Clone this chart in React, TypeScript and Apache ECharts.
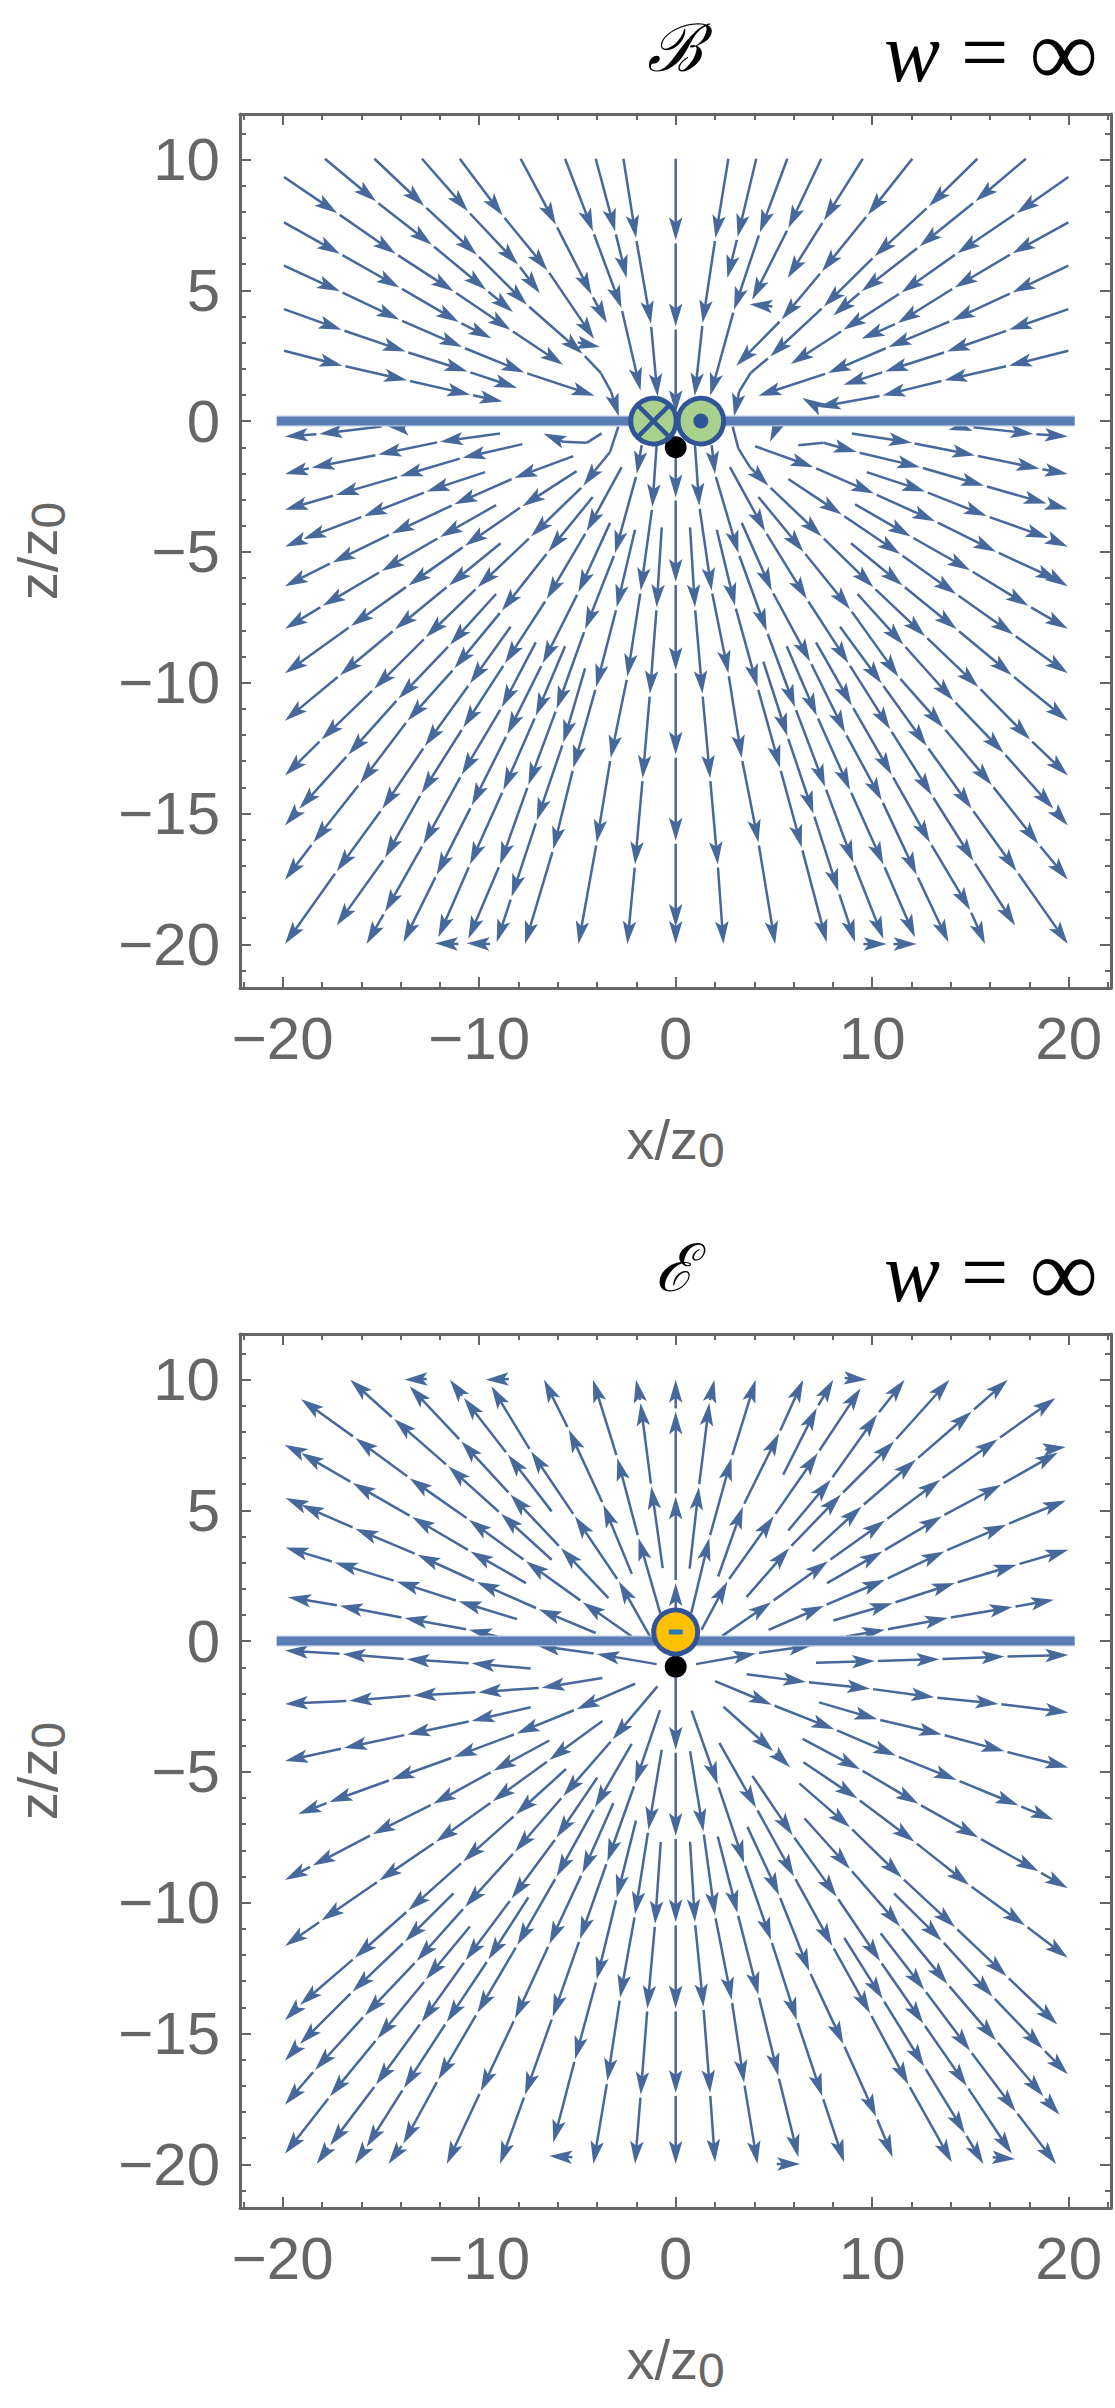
import React, { useEffect, useRef } from "react";
import * as echarts from "echarts";

type P = number[];

// Stream lines: [x, z] is an arrow tip, [x, z, 0] a bend without arrow; the first point is the start.
const bFieldUpper: P[][] = [
  [[-19.93,9.33],[-17.22,7.95],[-14.25,6.4],[-11.3,4.96],[-8.41,3.49],[-5.73,2.15]],
  [[-19.93,7.6],[-17.09,6.4],[-14.06,5.11],[-11.04,3.79],[-9.38,3.17]],
  [[-19.93,5.94],[-17.09,4.96],[-14.06,3.88],[-10.86,2.83],[-7.7,1.86],[-4.13,0.97]],
  [[-19.93,4.28],[-17.0,3.49],[-13.75,2.66],[-10.59,1.9],[-8.07,1.27]],
  [[-19.93,2.69],[-16.96,2.12],[-13.67,1.56],[-10.46,1.01],[-8.81,0.75]],
  [[-17.85,10.03],[-15.25,8.4],[-12.41,6.74],[-9.65,5.02],[-8.28,4.17]],
  [[-15.33,10.03],[-12.8,8.23],[-10.12,6.36],[-7.57,4.45],[-4.73,2.57],[-3.81,1.84,0],[-3.29,1.13,0],[-2.89,0.18]],
  [[-12.91,10.03],[-10.57,8.02],[-8.02,5.98],[-6.91,4.89]],
  [[-10.99,10.03],[-8.81,7.86],[-6.52,5.76],[-4.15,3.14]],
  [[-7.89,10.03],[-6.1,7.51],[-4.28,4.83],[-3.5,3.75]],
  [[-5.63,10.03],[-4.21,7.25],[-2.76,4.32],[-1.79,1.17]],
  [[-4.07,10.03],[-3.08,7.25],[-2.5,5.47]],
  [[-2.66,10.03],[-2.02,7.0],[-1.26,3.72],[-0.92,0.94]],
  [[0,10.03],[0,6.91],[0,3.62],[0,0.3]],
  [[2.68,10.03],[2.02,7.0],[1.37,3.75],[0.97,0.97]],
  [[4.1,10.03],[3.15,7.04],[2.63,5.47]],
  [[5.68,10.03],[4.28,7.21],[2.97,4.26],[1.76,0.97]],
  [[7.41,10.03],[5.73,7.38],[3.89,4.64]],
  [[9.52,10.03],[7.54,7.67],[5.7,5.47]],
  [[12.04,10.03],[9.78,7.89],[7.44,5.72],[5.39,3.88],[3.08,2.12]],
  [[15.35,10.03],[12.88,8.21],[10.12,6.3],[7.54,4.38],[4.81,2.47],[3.81,1.84,0],[3.23,1.13,0],[2.97,0.18]],
  [[17.82,10.03],[15.25,8.4],[12.41,6.68],[9.46,4.96],[8.02,4.04]],
  [[19.98,9.33],[17.35,7.95],[14.33,6.42],[11.49,4.92],[8.54,3.49],[5.86,2.18]],
  [[19.98,7.6],[17.14,6.42],[14.2,5.11],[11.3,3.75],[9.46,3.15]],
  [[19.98,5.94],[17.14,4.92],[14.06,3.85],[10.83,2.83],[7.75,1.84],[4.21,0.97]],
  [[19.98,4.28],[16.96,3.49],[13.8,2.66],[10.65,1.9],[8.54,1.39]],
  [[19.98,2.69],[16.96,2.12],[13.67,1.56],[10.52,0.98],[7.23,0.54]],
  [[-4.99,3.01],[-3.86,2.83]],
  [[4.92,4.38],[3.76,4.47]],
  [[7.23,0.54],[6.44,0.88]],
];

const bFieldLowerLeft: P[][] = [
  [[-14.96,-0.21],[-18.13,-0.49],[-19.88,-0.59]],
  [[-13.77,-0.27],[-14.71,-0.18]],
  [[-8.94,-0.47],[-11.99,-0.79],[-15.13,-1.28],[-18.52,-1.78],[-19.88,-2.02]],
  [[-7.8,-0.88],[-10.84,-1.4],[-14.03,-2.11],[-17.29,-2.82],[-19.88,-3.39]],
  [[-9.7,-1.95],[-12.67,-2.69],[-15.86,-3.63],[-18.95,-4.51],[-19.88,-4.8]],
  [[-5.21,-1.34],[-8.21,-2.17],[-11.26,-3.18],[-14.45,-4.3],[-17.46,-5.4],[-19.88,-6.31]],
  [[-5.04,-1.91],[-7.8,-3.25],[-10.72,-4.76],[-13.6,-6.28],[-16.52,-7.83],[-19.88,-9.64]],
  [[-9.14,-3.21],[-11.99,-4.43],[-14.96,-5.73],[-17.96,-7.06],[-19.88,-7.94]],
  [[-8.91,-4.67],[-11.54,-6.28],[-14.28,-7.96],[-17.08,-9.71],[-19.88,-11.45]],
  [[-2.92,-0.21],[-3.34,-1.18,0],[-4.11,-1.89,0],[-4.7,-2.47],[-7.36,-4.41],[-10.08,-6.35],[-12.71,-8.26],[-15.34,-10.23],[-18.02,-12.17],[-19.88,-13.55]],
  [[-4.22,-2.9],[-6.48,-4.99],[-8.85,-7.25],[-11.26,-9.45],[-13.64,-11.45],[-16.06,-13.85],[-18.44,-16.11],[-19.88,-17.53]],
  [[-9.14,-6.61],[-11.48,-8.55],[-14.11,-10.61],[-16.66,-12.75],[-19.15,-14.82],[-19.88,-15.46]],
  [[-8.4,-7.86],[-10.47,-10.03],[-12.76,-12.42],[-14.93,-14.82],[-17.25,-17.21],[-19.88,-19.99]],
  [[-2.75,-1.76],[-4.53,-4.21],[-6.56,-6.8],[-8.69,-9.26],[-10.81,-11.71],[-12.93,-14.23],[-14.79,-16.69],[-17.25,-19.28]],
  [[-7.12,-8.46],[-8.85,-10.94],[-10.89,-13.52],[-12.84,-16.17],[-14.79,-18.76],[-15.73,-19.99]],
  [[-5.63,-8.61],[-7.12,-11.26],[-8.77,-14.1],[-10.47,-16.95],[-12.08,-19.73]],
  [[-3.34,-3.89],[-4.95,-6.54],[-6.77,-9.26],[-8.57,-11.97],[-10.38,-14.69],[-12.16,-17.34],[-13.86,-19.92]],
  [[-4.61,-9.45],[-5.72,-12.29],[-7.07,-15.27],[-8.35,-18.18],[-9.11,-19.92]],
  [[-1.73,-0.92],[-1.98,-2.02],[-3.09,-5.05],[-4.61,-7.96],[-6.06,-11.0],[-7.5,-13.91],[-8.94,-16.95],[-10.55,-19.79]],
  [[-2.07,-4.15],[-3.0,-7.12],[-4.05,-10.16],[-5.21,-13.26],[-6.23,-16.37],[-7.67,-19.99]],
  [[-0.97,-0.92],[-1.19,-3.28],[-1.78,-6.48],[-2.46,-9.77],[-3.31,-12.88],[-4.02,-16.11],[-4.95,-19.99]],
  [[-0.71,-4.06],[-0.97,-7.12],[-1.31,-10.42],[-1.68,-13.65],[-2.07,-16.95],[-2.46,-19.99]],
  [[0,-1.2],[0,-2.92],[0,-6.15],[0,-9.52],[0,-12.75],[0,-16.04],[0,-19.34],[0,-19.99]],
  [[-3.77,-0.47],[-4.53,-0.83,0],[-5.72,-0.79,0],[-6.73,-0.47]],
  [[-11.06,-19.99],[-12.25,-19.96]],
  [[-9.45,-19.99],[-10.64,-19.96]],
];

const bFieldLowerRight: P[][] = [
  [[15.15,-0.23],[18.2,-0.49],[19.95,-0.59]],
  [[14.72,-0.18],[13.88,-0.34]],
  [[8.96,-0.47],[12.01,-0.83],[15.23,-1.31],[18.51,-1.82],[19.95,-2.02]],
  [[6.24,-0.92],[7.52,-0.83,0],[9.21,-1.18],[12.43,-1.76],[15.69,-2.47],[18.88,-3.15],[19.95,-3.37]],
  [[9.72,-1.95],[12.69,-2.69],[15.83,-3.63],[18.97,-4.47],[19.95,-4.8]],
  [[4.04,-0.96],[7.01,-1.76],[10.09,-2.77],[13.2,-3.83],[16.3,-4.99],[19.47,-6.09],[19.95,-6.31]],
  [[5.73,-2.21],[8.45,-3.57],[11.42,-5.08],[14.27,-6.61],[17.18,-8.16],[19.95,-9.64]],
  [[9.13,-3.18],[11.96,-4.41],[14.98,-5.7],[17.95,-7.06],[19.95,-7.94]],
  [[8.92,-4.67],[11.54,-6.28],[14.3,-7.96],[17.1,-9.71],[19.95,-11.45]],
  [[2.9,-0.21],[3.19,-1.05,0],[3.78,-1.76,0],[4.72,-2.47],[7.43,-4.41],[10.06,-6.35],[12.69,-8.22],[15.4,-10.16],[18.03,-12.17],[19.95,-13.55]],
  [[4.21,-2.9],[6.5,-4.99],[8.87,-7.19],[11.33,-9.77],[13.62,-11.71],[16.08,-13.91],[18.46,-16.17],[19.95,-17.53]],
  [[9.25,-6.61],[11.59,-8.55],[14.13,-10.68],[16.68,-12.68],[19.22,-14.82],[19.95,-15.46]],
  [[8.36,-7.86],[10.48,-10.03],[12.77,-12.42],[15.06,-14.82],[17.35,-17.21],[19.95,-19.99]],
  [[2.76,-1.76],[4.55,-4.21],[6.67,-6.8],[8.79,-9.26],[10.91,-11.78],[13.03,-14.3],[15.15,-16.82],[17.27,-19.28]],
  [[7.14,-8.46],[8.96,-10.87],[10.99,-13.52],[12.94,-16.11],[14.98,-18.69],[15.74,-19.99]],
  [[5.65,-8.61],[7.18,-11.26],[8.87,-14.1],[10.57,-16.95],[12.18,-19.73]],
  [[3.36,-3.89],[4.89,-6.48],[6.84,-9.19],[8.62,-11.91],[10.48,-14.49],[12.26,-17.34],[13.88,-19.92]],
  [[4.46,-9.19],[5.68,-12.04],[7.01,-15.01],[8.28,-17.98],[9.13,-19.92]],
  [[1.83,-0.92],[2.0,-2.02],[3.19,-5.05],[4.63,-8.03],[6.07,-10.94],[7.6,-13.98],[9.04,-16.88],[10.57,-19.79]],
  [[2.09,-4.15],[3.02,-7.06],[4.16,-10.16],[5.31,-13.26],[6.41,-16.3],[7.68,-19.92]],
  [[0.98,-0.92],[1.2,-3.24],[1.83,-6.48],[2.68,-9.64],[3.36,-12.88],[4.21,-16.11],[5.06,-19.99]],
  [[0.73,-4.06],[0.98,-7.12],[1.36,-10.42],[1.75,-13.65],[2.14,-16.95],[2.43,-19.99]],
  [[9.55,-19.99],[10.74,-19.99]],
  [[11.08,-19.99],[12.26,-19.99]],
  [[5.17,-0.18],[4.8,-0.79]],
];

const eFieldUpper: P[][] = [
  [[-4.07,0.31],[-6.97,1.22],[-10.12,2.26],[-13.14,3.3],[-16.3,4.3],[-19.06,5.21],[-19.85,5.47]],
  [[-8.07,0.84],[-11.04,1.52],[-14.2,2.28],[-17.35,3.01],[-19.85,3.58]],
  [[-9.07,0.18],[-10.52,0.43],[-13.8,0.88],[-17.09,1.35],[-19.72,1.68]],
  [[-7.62,2.22],[-10.44,3.43],[-13.41,4.74],[-16.43,6.04],[-19.06,7.19],[-19.9,7.51]],
  [[-2.23,0.18],[-4.73,1.49],[-7.62,3.05],[-10.52,4.64],[-13.54,6.23],[-16.3,7.76],[-19.06,9.25]],
  [[-3.42,1.64],[-5.84,3.56],[-8.41,5.6],[-10.91,7.64],[-13.54,9.74]],
  [[-6.31,3.11],[-8.89,4.87],[-11.57,6.68],[-14.33,8.49],[-16.56,9.99]],
  [[-1.31,0.18],[-2.89,2.28],[-5.13,4.77],[-7.36,7.25],[-9.38,9.74]],
  [[-2.23,2.57],[-3.68,5.21],[-5.44,8.08],[-6.7,9.99]],
  [[-0.79,1.07],[-1.89,3.94],[-2.97,7.0],[-4.21,9.99]],
  [[-0.66,2.79],[-1.24,5.91],[-1.79,9.1],[-2.02,9.99]],
  [[-6.31,4.96],[-8.54,7.13],[-10.78,9.29],[-11.49,9.99]],
  [[0,1.2],[0,2.22],[0,5.53],[0,8.78],[0,9.99]],
  [[0.79,1.07],[1.71,3.94],[2.84,7.0],[4.07,9.99]],
  [[0.71,2.77],[1.18,5.89],[1.71,9.1],[1.97,9.99]],
  [[2.16,2.47],[3.42,5.15],[5.26,7.95],[6.49,9.99]],
  [[1.31,0.43],[2.63,2.28],[4.99,4.77],[7.23,7.19],[9.41,9.67]],
  [[3.6,1.68],[5.78,3.56],[8.41,5.6],[11.12,7.64],[13.93,9.99]],
  [[2.37,0.2],[4.86,1.49],[7.75,3.05],[10.65,4.61],[13.46,6.17],[16.38,7.72],[19.32,9.29]],
  [[4.73,0.43],[7.54,1.35],[10.65,2.35],[13.67,3.43],[16.82,4.45],[19.85,5.38]],
  [[7.7,2.22],[10.52,3.43],[13.54,4.77],[16.56,5.98],[19.45,7.21]],
  [[6.97,3.43],[9.46,5.15],[12.22,6.93],[15.06,8.78],[16.9,9.99]],
  [[8.02,0.79],[11.04,1.45],[14.2,2.22],[17.35,2.92],[19.98,3.49]],
  [[8.67,0.18],[10.65,0.43],[13.85,0.88],[17.14,1.3],[19.24,1.58]],
  [[5.73,4.23],[7.89,6.17],[10.25,8.66],[11.65,9.99]],
  [[5.47,6.36],[7.18,8.91],[8.02,9.99]],
  [[-12.67,10.02],[-13.8,9.99]],
  [[-8.49,10.02],[-9.67,9.99]],
  [[8.6,10.06],[9.73,9.99]],
  [[18.8,7.32],[19.85,7.42]],
];

const eFieldLowerLeft: P[][] = [
  [[-7.38,-1.05],[-10.38,-0.85],[-13.69,-0.69],[-16.95,-0.49],[-19.88,-0.36]],
  [[-0.97,-0.88],[-4.02,-0.49],[-7.07,-0.17]],
  [[-3.73,-1.41],[-6.82,-1.78],[-10.04,-1.95],[-13.35,-2.08],[-16.61,-2.28],[-19.88,-2.4]],
  [[-7.38,-2.53],[-10.38,-3.05],[-13.66,-3.57],[-16.88,-4.09],[-19.88,-4.58]],
  [[-2.07,-1.63],[-5.04,-2.6],[-8.09,-3.53],[-11.28,-4.43],[-14.45,-5.29],[-17.62,-6.15],[-19.2,-6.61]],
  [[-6.43,-3.8],[-9.28,-4.96],[-12.33,-6.22],[-15.42,-7.38],[-18.47,-8.58],[-19.88,-9.13]],
  [[-3.73,-3.05],[-6.43,-4.54],[-9.31,-6.12],[-12.2,-7.67],[-15.08,-9.15],[-18.02,-10.68],[-19.88,-11.65]],
  [[-0.93,-1.73],[-3.21,-3.76],[-5.72,-5.92],[-8.18,-8.05],[-10.72,-10.16],[-13.18,-12.23],[-15.81,-14.3],[-18.35,-16.39],[-19.88,-17.72]],
  [[-5.58,-4.89],[-8.14,-6.63],[-10.81,-8.42],[-13.6,-10.29],[-16.32,-12.1],[-19.12,-13.91],[-19.88,-14.49]],
  [[-11.31,-9.64],[-13.77,-11.48],[-16.44,-13.39],[-19.12,-15.4],[-19.88,-16.04]],
  [[-10.47,-10.91],[-12.71,-12.94],[-15.18,-15.2],[-17.59,-17.4],[-19.88,-19.6]],
  [[-3.99,-5.22],[-6.06,-7.51],[-8.35,-9.84],[-10.69,-12.2],[-12.93,-14.56],[-15.25,-16.95],[-17.59,-19.28],[-18.27,-19.99]],
  [[-7.5,-9.8],[-9.53,-12.17],[-11.65,-14.56],[-13.83,-17.08],[-15.73,-19.34],[-16.32,-19.99]],
  [[-2.24,-3.93],[-4.11,-6.35],[-6.06,-9.0],[-8.06,-11.62],[-10.09,-14.21],[-12.08,-16.76],[-13.86,-19.21],[-14.62,-19.99]],
  [[-3.17,-6.19],[-4.75,-8.87],[-6.43,-11.58],[-8.18,-14.43],[-9.92,-17.21],[-11.65,-19.99]],
  [[-0.8,-2.64],[-2.07,-5.44],[-3.48,-8.42],[-4.87,-11.39],[-6.26,-14.36],[-7.67,-17.34],[-8.94,-19.99]],
  [[-2.02,-6.86],[-3.0,-9.8],[-4.02,-12.94],[-5.12,-15.98],[-6.23,-19.17]],
  [[-0.71,-4.15],[-1.39,-7.21],[-2.07,-10.45],[-2.83,-13.63],[-3.48,-16.82],[-4.19,-19.99]],
  [[-0.76,-7.68],[-1.05,-10.81],[-1.44,-14.04],[-1.78,-17.34],[-2.07,-19.99]],
  [[0,-1.4],[0,-4.15],[0,-7.45],[0,-10.75],[0,-14.04],[0,-17.27],[0,-19.99]],
  [[-5.26,-19.73],[-6.43,-19.68]],
];

const eFieldLowerRight: P[][] = [
  [[7.14,-0.83],[10.14,-0.76],[13.42,-0.69],[16.73,-0.59],[19.98,-0.53]],
  [[1.03,-0.88],[4.09,-0.47],[6.92,-0.17]],
  [[3.61,-1.27],[6.63,-1.56],[9.89,-1.82],[13.16,-2.15],[16.42,-2.4],[19.98,-2.73]],
  [[7.29,-2.34],[10.26,-2.99],[13.54,-3.57],[16.73,-4.21],[19.98,-4.83]],
  [[2.0,-1.53],[4.89,-2.43],[8.07,-3.37],[11.21,-4.38],[14.3,-5.31],[17.44,-6.28],[19.22,-6.83]],
  [[6.46,-3.74],[9.38,-4.9],[12.35,-6.22],[15.4,-7.51],[18.46,-8.8],[19.95,-9.45]],
  [[2.43,-2.51],[4.97,-4.21],[5.82,-4.82]],
  [[6.5,-4.63],[9.25,-6.02],[12.15,-7.67],[14.93,-9.32],[17.78,-10.87],[19.95,-12.1]],
  [[6.29,-5.44],[8.87,-7.12],[11.5,-9.04],[14.22,-10.94],[16.84,-12.81],[19.42,-14.66]],
  [[6.55,-6.77],[8.87,-8.71],[11.42,-10.91],[13.83,-13.11],[16.3,-15.27],[18.71,-17.4],[19.53,-18.11]],
  [[11.11,-9.64],[13.54,-11.45],[16.13,-13.59],[18.68,-15.59],[19.95,-16.56]],
  [[10.43,-11.17],[12.65,-13.33],[14.98,-15.66],[17.3,-17.98],[19.36,-19.99]],
  [[3.9,-5.15],[5.95,-7.42],[8.19,-9.77],[10.4,-12.23],[12.6,-14.62],[14.81,-17.01],[17.1,-19.6]],
  [[2.22,-3.89],[4.09,-6.37],[6.02,-9.0],[7.97,-11.65],[9.89,-14.23],[11.84,-16.95],[14.05,-19.92]],
  [[8.58,-11.35],[10.53,-13.68],[12.64,-16.26],[14.72,-18.82],[15.66,-19.99]],
  [[3.65,-7.1],[5.26,-9.71],[6.8,-12.62],[8.53,-15.4],[10.2,-18.18],[11.04,-19.73]],
  [[0.81,-2.66],[2.14,-5.48],[3.48,-8.48],[4.85,-11.43],[6.16,-14.49],[7.46,-17.4],[8.57,-19.92]],
  [[2.14,-7.47],[3.14,-10.39],[4.21,-13.52],[5.22,-16.62],[6.24,-19.73]],
  [[0.73,-4.21],[1.41,-7.28],[2.0,-10.48],[2.85,-13.72],[3.48,-16.88],[4.16,-19.99]],
  [[0.73,-7.67],[0.98,-10.74],[1.41,-13.98],[1.75,-17.27],[2.0,-19.92]],
  [[5.14,-19.99],[6.33,-19.99]],
  [[16.13,-19.73],[17.27,-19.8]],
];

const barLine = [[-20.3, 0], [20.3, 0]];
const xTicksMajor = [-20, -10, 0, 10, 20];
const xTicksMinor = [-22, -18, -16, -14, -12, -8, -6, -4, -2, 2, 4, 6, 8, 12, 14, 16, 18, 22];
const zTicksMajor = [-20, -15, -10, -5, 0, 5, 10];
const zTicksMinor = [-21, -19, -18, -17, -16, -14, -13, -12, -11, -9, -8, -7, -6, -4, -3, -2, -1, 1, 2, 3, 4, 6, 7, 8, 9, 11];
const X_RANGE = [-22.17, 22.15];
const Z_RANGE = [-21.67, 11.74];
// Charges: [x, z, kind]
const bMarks = [[0, -1, 0], [-1.13, 0, 1], [1.28, 0, 2]];
const eMarks = [[0, -0.98, 0], [0, 0.35, 3]];

const LINE = "#46689a";
const GREY = "#666666";
const RING = "#2f5597";
const FONT = "'Liberation Sans', Arial, sans-serif";
const HEAD_LEN = 23;
const HEAD_W = 13.5;

function segments(lines: P[][]) {
  const rows: number[][] = [];
  lines.forEach((l) => {
    for (let i = 1; i < l.length; i++) {
      const arrow = l[i].length === 2 ? 1 : 0;
      const gap = i > 1 && l[i - 1].length === 2 ? 3 : 0;
      rows.push([l[i - 1][0], l[i - 1][1], l[i][0], l[i][1], arrow, gap]);
    }
  });
  return rows;
}

function renderSegment(_: any, api: any) {
  const a = api.coord([api.value(0), api.value(1)]);
  const b = api.coord([api.value(2), api.value(3)]);
  const arrow = api.value(4) === 1;
  const gap = api.value(5);
  const dx = b[0] - a[0];
  const dy = b[1] - a[1];
  const len = Math.hypot(dx, dy) || 1;
  const ux = dx / len;
  const uy = dy / len;
  const endBack = arrow ? Math.min(HEAD_LEN * 0.7, len) : 0;
  const children: any[] = [
    {
      type: "line",
      shape: { x1: a[0] + ux * gap, y1: a[1] + uy * gap, x2: b[0] - ux * endBack, y2: b[1] - uy * endBack },
      style: { stroke: LINE, lineWidth: 2.5 },
    },
  ];
  if (arrow) {
    const bx = b[0] - ux * HEAD_LEN;
    const by = b[1] - uy * HEAD_LEN;
    const nx = b[0] - ux * HEAD_LEN * 0.78;
    const ny = b[1] - uy * HEAD_LEN * 0.78;
    children.push({
      type: "polygon",
      shape: {
        points: [
          [b[0], b[1]],
          [bx - uy * HEAD_W * 0.5, by + ux * HEAD_W * 0.5],
          [nx, ny],
          [bx + uy * HEAD_W * 0.5, by - ux * HEAD_W * 0.5],
        ],
      },
      style: { fill: LINE },
    });
  }
  return { type: "group", children };
}

function renderMark(_: any, api: any) {
  const c = api.coord([api.value(0), api.value(1)]);
  const kind = api.value(2);
  const [x, y] = c;
  if (kind === 0) return { type: "circle", shape: { cx: x, cy: y, r: 11 }, style: { fill: "#000" } };
  const fill = kind === 3 ? "#ffc000" : "#a9d18e";
  const r = kind === 3 ? 22 : 22.8;
  const children: any[] = [
    { type: "circle", shape: { cx: x, cy: y, r }, style: { fill, stroke: RING, lineWidth: 5 } },
  ];
  if (kind === 1) {
    const d = r * 0.71;
    children.push(
      { type: "line", shape: { x1: x - d, y1: y - d, x2: x + d, y2: y + d }, style: { stroke: RING, lineWidth: 4.5 } },
      { type: "line", shape: { x1: x - d, y1: y + d, x2: x + d, y2: y - d }, style: { stroke: RING, lineWidth: 4.5 } },
    );
  }
  if (kind === 2) children.push({ type: "circle", shape: { cx: x, cy: y, r: 7.5 }, style: { fill: RING } });
  if (kind === 3)
    children.push({ type: "rect", shape: { x: x - 7, y: y - 2.5, width: 14, height: 5, r: 1 }, style: { fill: "#2e75b6" } });
  return { type: "group", children };
}

const fmt = (v: number) => (v < 0 ? "\u2212" + -v : String(v));

function axes(dim: "x" | "z", grid: number) {
  const isX = dim === "x";
  const range = isX ? X_RANGE : Z_RANGE;
  const major = isX ? xTicksMajor : zTicksMajor;
  const minor = isX ? xTicksMinor : zTicksMinor;
  const positions = isX ? ["bottom", "top"] : ["left", "right"];
  const list: any[] = [];
  positions.forEach((pos, side) => {
    [major, minor].forEach((vals, k) => {
      const main = side === 0 && k === 0;
      const ax: any = {
        type: "value",
        gridIndex: grid,
        position: pos,
        min: range[0],
        max: range[1],
        scale: true,
        splitLine: { show: false },
        axisLine: { show: k === 0, onZero: false, lineStyle: { color: GREY, width: 3 } },
        axisTick: {
          show: true,
          inside: true,
          length: k === 0 ? 11 : 6,
          customValues: vals,
          lineStyle: { color: GREY, width: 2 },
        },
        axisLabel: main
          ? {
              show: true,
              customValues: major,
              formatter: fmt,
              color: GREY,
              fontFamily: FONT,
              fontSize: 60,
              margin: 20,
              hideOverlap: false,
            }
          : { show: false },
      };
      if (main) {
        ax.name = isX ? "x/z{s|0}" : "z/z{s|0}";
        ax.nameLocation = "middle";
        ax.nameGap = isX ? 116 : 168;
        ax.nameRotate = isX ? 0 : 90;
        ax.nameTextStyle = {
          color: GREY,
          fontFamily: FONT,
          fontSize: 56,
          rich: { s: { color: GREY, fontFamily: FONT, fontSize: 48, padding: [22, 0, 0, 0] } },
        };
      }
      list.push(ax);
    });
  });
  return list;
}

const fieldSeries = (lines: P[][], grid: number) => ({
  type: "custom",
  coordinateSystem: "cartesian2d",
  xAxisIndex: grid * 4,
  yAxisIndex: grid * 4,
  renderItem: renderSegment,
  silent: true,
  clip: false,
  encode: { x: [0, 2], y: [1, 3] },
  data: segments(lines),
  z: 2,
});

const barSeries = (grid: number, width: number, color: string, z: number) => ({
  type: "line",
  xAxisIndex: grid * 4,
  yAxisIndex: grid * 4,
  data: barLine,
  symbol: "none",
  silent: true,
  lineStyle: { color, width, cap: "butt" },
  z,
});

const markSeries = (marks: number[][], grid: number) => ({
  type: "custom",
  coordinateSystem: "cartesian2d",
  xAxisIndex: grid * 4,
  yAxisIndex: grid * 4,
  renderItem: renderMark,
  silent: true,
  clip: false,
  encode: { x: 0, y: 1 },
  data: marks,
  z: 5,
});

const serif = "'Liberation Serif', serif";
const titleStyle = {
  color: "#000",
  fontFamily: serif,
  fontSize: 84,
  lineHeight: 76,
  fontWeight: "normal",
  rich: {
    i: { fontStyle: "italic", fontFamily: serif, fontSize: 84, lineHeight: 76, color: "#000" },
    o: { fontFamily: serif, fontSize: 96, lineHeight: 76, color: "#000" },
  },
};
const scriptStyle = { color: "#000", fontFamily: "'DejaVu Serif', serif", fontStyle: "italic", fontWeight: "normal", fontSize: 66 };

export default function App() {
  const ref = useRef<HTMLDivElement>(null);
  useEffect(() => {
    const chart = echarts.init(ref.current!, undefined, { renderer: "svg" });
    chart.setOption({
      animation: false,
      backgroundColor: "#ffffff",
      title: [
        { text: "\u212C", left: 642, top: 10, textStyle: scriptStyle },
        { text: "{i|w} = {o|\u221E}", left: 884, top: 14, padding: 0, textStyle: titleStyle },
        { text: "\u2130", left: 650, top: 1230, textStyle: scriptStyle },
        { text: "{i|w} = {o|\u221E}", left: 884, top: 1234, padding: 0, textStyle: titleStyle },
      ],
      grid: [
        { left: 240, right: 4, top: 114, height: 874, outerBoundsMode: "none" },
        { left: 240, right: 4, top: 1334, height: 874, outerBoundsMode: "none" },
      ],
      xAxis: [...axes("x", 0), ...axes("x", 1)],
      yAxis: [...axes("z", 0), ...axes("z", 1)],
      series: [
        fieldSeries(bFieldUpper, 0),
        fieldSeries(bFieldLowerLeft, 0),
        fieldSeries(bFieldLowerRight, 0),
        barSeries(0, 11, "#b4c5df", 3),
        barSeries(0, 8.5, "#5b7db5", 4),
        markSeries(bMarks, 0),
        fieldSeries(eFieldUpper, 1),
        fieldSeries(eFieldLowerLeft, 1),
        fieldSeries(eFieldLowerRight, 1),
        barSeries(1, 11, "#b4c5df", 3),
        barSeries(1, 8.5, "#5b7db5", 4),
        markSeries(eMarks, 1),
      ],
    });
    return () => chart.dispose();
  }, []);
  return <div ref={ref} style={{ position: "absolute", left: 0, top: 0, width: 1115, height: 2408 }} />;
}
